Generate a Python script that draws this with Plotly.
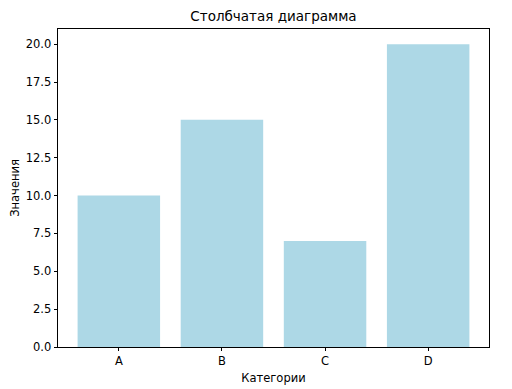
import plotly.graph_objects as go

categories = ["A", "B", "C", "D"]
values = [10, 15, 7, 20]
y_ticks = [0.0, 2.5, 5.0, 7.5, 10.0, 12.5, 15.0, 17.5, 20.0]
y_tick_labels = ["0.0", "2.5", "5.0", "7.5", "10.0", "12.5", "15.0", "17.5", "20.0"]

fig = go.Figure(go.Bar(x=list(range(len(categories))), y=values, width=0.8,
                       marker=dict(color="#add8e6", line=dict(width=0))))

font = "DejaVu Sans"
fig.update_layout(
    width=504, height=381,
    margin=dict(l=50, r=23, t=21, b=42),
    paper_bgcolor="white", plot_bgcolor="white",
    font=dict(family=font, size=11.5, color="black"),
    title=dict(text="Столбчатая диаграмма", x=0.5, xref="paper", y=1, yref="paper",
               yanchor="bottom", pad=dict(b=8), font=dict(size=13.5, family=font)),
    showlegend=False,
)
fig.update_xaxes(
    range=[-0.59, 3.59], tickmode="array", tickvals=list(range(len(categories))),
    ticktext=categories, ticks="outside", ticklen=3.5, tickwidth=0.8, tickcolor="black",
    showgrid=False, zeroline=False, showline=True, linecolor="black", linewidth=0.8,
    mirror=True, automargin=False,
    title=dict(text="Категории", font=dict(size=11.5), standoff=6),
)
fig.update_yaxes(
    range=[0, 21], tickmode="array", tickvals=y_ticks, ticktext=y_tick_labels,
    ticks="outside", ticklen=3.5, tickwidth=0.8, tickcolor="black",
    showgrid=False, zeroline=False, showline=True, linecolor="black", linewidth=0.8,
    mirror=True, automargin=False,
    title=dict(text="Значения", font=dict(size=11.5), standoff=6),
)
fig.write_html("out.html")
